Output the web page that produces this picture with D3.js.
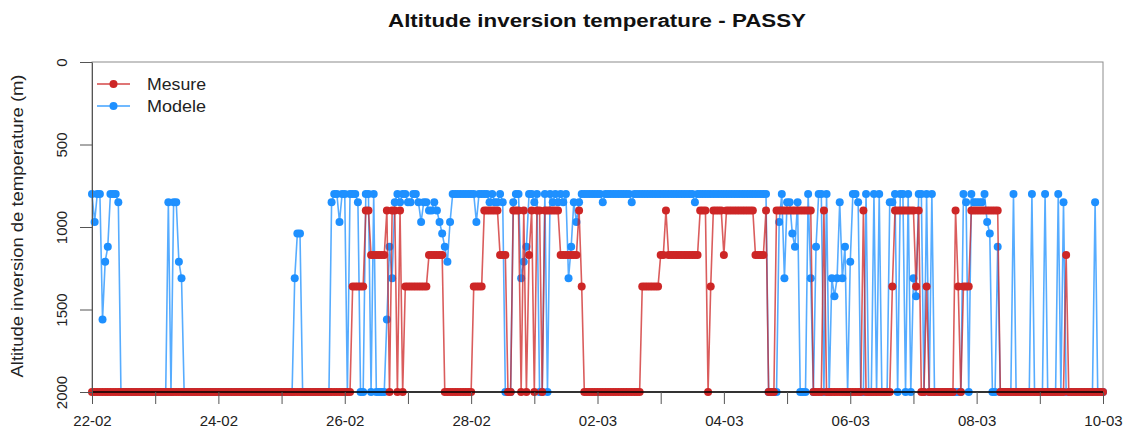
<!DOCTYPE html>
<html><head><meta charset="utf-8">
<script src="https://cdn.jsdelivr.net/npm/d3@7"></script>
<style>body{margin:0;background:#fff}svg{display:block;font-family:"Liberation Sans",Arial,sans-serif}</style>
</head><body><svg id="c" width="1132" height="435"></svg>
<script>
const chartTitle = "Altitude inversion temperature - PASSY";
const yTitle = "Altitude inversion de temperature (m)";
const startDate = "2017-02-22T00:00:00Z";
const endDate = "2017-03-10T00:00:00Z";
const yTicks = [0, 500, 1000, 1500, 2000];
const seriesNames = ["Mesure", "Modele"];
const seriesColors = ["#CD2626", "#1E90FF"];

// hourly values, one row per day
const mesure = [
2000,2000,2000,2000,2000,2000,2000,2000,2000,2000,2000,2000,2000,2000,2000,2000,2000,2000,2000,2000,2000,2000,2000,2000,
2000,2000,2000,2000,2000,2000,2000,2000,2000,2000,2000,2000,2000,2000,2000,2000,2000,2000,2000,2000,2000,2000,2000,2000,
2000,2000,2000,2000,2000,2000,2000,2000,2000,2000,2000,2000,2000,2000,2000,2000,2000,2000,2000,2000,2000,2000,2000,2000,
2000,2000,2000,2000,2000,2000,2000,2000,2000,2000,2000,2000,2000,2000,2000,2000,2000,2000,2000,2000,2000,2000,2000,2000,
2000,2000,2000,1360,1360,1360,1360,1360,900,900,1170,1170,1170,1170,1170,1170,900,2000,900,900,2000,900,2000,1360,
1360,1360,1360,1360,1360,1360,1360,1360,1170,1170,1170,1170,1170,1170,2000,2000,2000,2000,2000,2000,2000,2000,2000,2000,
2000,1360,1360,1360,1360,900,900,900,900,900,900,1170,1170,1170,2000,2000,900,900,900,2000,900,2000,1170,900,
2000,900,900,2000,900,900,900,900,900,900,1170,1170,1170,1170,1170,1170,1170,900,1360,2000,2000,2000,2000,2000,
2000,2000,2000,2000,2000,2000,2000,2000,2000,2000,2000,2000,2000,2000,2000,2000,2000,1360,1360,1360,1360,1360,1360,1360,
1170,1170,900,1170,1170,1170,1170,1170,1170,1170,1170,1170,1170,1170,1170,900,900,900,2000,1360,900,900,900,900,
1170,900,900,900,900,900,900,900,900,900,900,900,1170,1170,1170,1170,900,2000,2000,2000,900,900,900,900,
900,900,900,900,900,900,900,900,900,900,2000,2000,2000,2000,900,2000,2000,2000,2000,2000,2000,2000,2000,2000,
2000,2000,2000,2000,2000,900,2000,2000,2000,2000,2000,2000,2000,2000,2000,2000,1360,900,900,900,900,900,900,900,
900,1360,900,2000,2000,1360,2000,2000,2000,2000,2000,2000,2000,2000,2000,2000,900,1360,2000,1360,1360,1360,900,900,
900,900,900,900,900,900,900,900,900,2000,2000,2000,2000,2000,2000,2000,2000,2000,2000,2000,2000,2000,2000,2000,
2000,2000,2000,2000,2000,2000,2000,2000,2000,2000,1170,2000,2000,2000,2000,2000,2000,2000,2000,2000,2000,2000,2000,2000,
2000
];
const modele = [
800,970,800,800,1560,1210,1120,800,800,800,850,2000,2000,2000,2000,2000,2000,2000,2000,2000,2000,2000,2000,2000,
2000,2000,2000,2000,2000,850,2000,850,850,1210,1310,2000,2000,2000,2000,2000,2000,2000,2000,2000,2000,2000,2000,2000,
2000,2000,2000,2000,2000,2000,2000,2000,2000,2000,2000,2000,2000,2000,2000,2000,2000,2000,2000,2000,2000,2000,2000,2000,
2000,2000,2000,2000,2000,1310,1040,1040,2000,2000,2000,2000,2000,2000,2000,2000,2000,2000,2000,850,800,800,970,800,
800,2000,800,800,800,850,2000,2000,800,800,2000,800,2000,2000,2000,2000,1560,1120,1310,850,800,850,800,800,
850,850,800,800,850,970,850,850,900,900,850,900,970,1040,1120,1210,970,800,800,800,800,800,800,800,
800,800,970,800,800,800,800,850,800,850,850,800,850,2000,2000,2000,850,800,800,1310,1210,1120,800,800,
850,800,2000,2000,800,2000,800,850,800,850,800,850,800,1310,1120,850,970,850,800,800,800,800,800,800,
800,800,850,800,800,800,800,800,800,800,800,800,800,850,800,800,800,800,800,800,800,800,800,800,
800,800,800,800,800,800,800,800,800,800,800,800,800,850,800,800,800,800,800,800,800,800,800,800,
800,800,800,800,800,800,800,800,800,800,800,800,800,800,800,800,800,2000,2000,2000,2000,970,800,1310,
850,850,1040,1120,850,2000,2000,2000,800,1310,2000,1120,800,800,2000,800,2000,1310,1420,1310,850,1310,1120,2000,
1210,800,800,850,2000,2000,800,2000,2000,800,2000,800,2000,2000,2000,850,850,800,2000,800,800,2000,800,2000,
1310,1420,800,800,2000,800,2000,800,2000,2000,2000,2000,2000,2000,2000,2000,2000,2000,2000,800,850,2000,800,850,
850,850,850,800,970,1040,2000,2000,1120,2000,2000,2000,2000,2000,800,2000,2000,2000,2000,2000,2000,800,2000,2000,
2000,2000,800,2000,2000,2000,2000,800,2000,850,2000,2000,2000,2000,2000,2000,2000,2000,2000,2000,2000,850,2000,2000,
2000
];

const svg = d3.select("#c");
const t0 = new Date(startDate);
const x = d3.scaleUtc().domain([t0, new Date(endDate)]).range([92, 1103]);
const y = d3.scaleLinear().domain([0, 2000]).range([62, 392]);
const timeOf = i => new Date(t0.getTime() + i * 3600000);

// frame
svg.append("rect").attr("x", 92).attr("y", 62).attr("width", 1011).attr("height", 330)
  .attr("fill", "none").attr("stroke", "#8c8c8c").attr("stroke-width", 1);

// series (model first, measurement on top)
const series = [modele, mesure];
const cols = [seriesColors[1], seriesColors[0]];
series.forEach((vals, k) => {
  const pts = vals.map((v, i) => [timeOf(i), v]);
  const line = d3.line().x(d => x(d[0])).y(d => y(d[1]));
  svg.append("path").attr("d", line(pts)).attr("fill", "none")
    .attr("stroke", cols[k]).attr("stroke-width", 1.6).attr("stroke-opacity", 0.75)
    .attr("stroke-linejoin", "round");
  svg.append("g").selectAll("circle").data(pts).join("circle")
    .attr("cx", d => x(d[0])).attr("cy", d => y(d[1])).attr("r", 4)
    .attr("fill", cols[k]);
});

// x axis line at 2000
svg.append("line").attr("x1", 92).attr("x2", 1103).attr("y1", y(2000)).attr("y2", y(2000))
  .attr("stroke", "#000").attr("stroke-width", 1.3);

// y axis
const yAxis = svg.append("g").attr("transform", "translate(92,0)")
  .call(d3.axisLeft(y).tickValues(yTicks).tickSize(12).tickSizeOuter(0).tickFormat(d3.format("d")));
yAxis.select(".domain").attr("stroke", "#555");
yAxis.selectAll(".tick line").attr("stroke", "#555");
yAxis.selectAll(".tick text").attr("x", null).attr("dy", null)
  .attr("transform", "translate(-25,0) rotate(-90)").attr("text-anchor", "middle")
  .attr("font-size", 15).attr("fill", "#222").attr("font-family", "Liberation Sans, Arial, sans-serif");

// x axis
const fmt = d3.utcFormat("%d-%m");
const xAxis = svg.append("g").attr("transform", `translate(0,${y(2000)})`)
  .call(d3.axisBottom(x).ticks(d3.utcDay.every(1)).tickSize(12).tickSizeOuter(0)
    .tickFormat((d, i) => (i % 2 === 0 ? fmt(d) : "")));
xAxis.select(".domain").remove();
xAxis.selectAll(".tick line").attr("stroke", "#555");
xAxis.selectAll(".tick text").attr("y", 34).attr("dy", null)
  .attr("font-size", 15).attr("fill", "#222").attr("font-family", "Liberation Sans, Arial, sans-serif");

// titles
svg.append("text").attr("x", 597).attr("y", 27).attr("text-anchor", "middle")
  .attr("font-weight", "bold").attr("font-size", 17.5).attr("fill", "#111")
  .attr("textLength", 418).attr("lengthAdjust", "spacingAndGlyphs").text(chartTitle);
svg.append("text").attr("transform", "translate(23,226) rotate(-90)").attr("text-anchor", "middle")
  .attr("font-size", 16).attr("fill", "#222")
  .attr("textLength", 303).attr("lengthAdjust", "spacingAndGlyphs").text(yTitle);

// legend
seriesNames.forEach((name, k) => {
  const ly = 84 + k * 22;
  const g = svg.append("g");
  g.append("line").attr("x1", 97).attr("x2", 130).attr("y1", ly).attr("y2", ly)
    .attr("stroke", seriesColors[k]).attr("stroke-width", 1.6).attr("stroke-opacity", 0.85);
  g.append("circle").attr("cx", 113.5).attr("cy", ly).attr("r", 4).attr("fill", seriesColors[k]);
  g.append("text").attr("x", 147).attr("y", ly + 5.5).attr("font-size", 16).attr("fill", "#222")
    .attr("textLength", 59).attr("lengthAdjust", "spacingAndGlyphs").text(name);
});
</script></body></html>
